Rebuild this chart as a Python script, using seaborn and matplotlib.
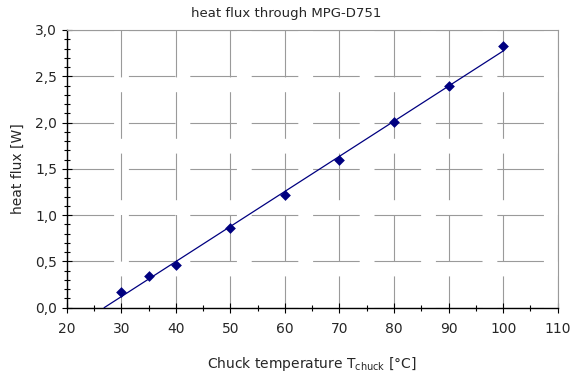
import matplotlib
matplotlib.use("Agg")
import matplotlib.pyplot as plt
from matplotlib.ticker import MultipleLocator
import numpy as np
import pandas as pd
import seaborn as sns

sns.set_theme(style="white")
plt.rcParams.update({
    "font.family": ["DejaVu Sans"],
    "font.size": 10,
    "lines.scale_dashes": False,
    "mathtext.default": "regular",
})

temperature = [30, 35, 40, 50, 60, 70, 80, 90, 100]
heat_flux = [0.173, 0.342, 0.461, 0.861, 1.22, 1.595, 2.002, 2.397, 2.826]

x_ticks = [20, 30, 40, 50, 60, 70, 80, 90, 100, 110]
y_ticks = [0.0, 0.5, 1.0, 1.5, 2.0, 2.5, 3.0]
y_tick_labels = ["0,0", "0,5", "1,0", "1,5", "2,0", "2,5", "3,0"]

df = pd.DataFrame({"T": temperature, "Q": heat_flux})

# linear fit, drawn from where it crosses zero up to the last point
slope, icpt = np.polyfit(df["T"], df["Q"], 1)
fit = pd.DataFrame({"T": [-icpt / slope, df["T"].max()]})
fit["Q"] = slope * fit["T"] + icpt

navy = "#000080"
grid_c = "#9a9a9a"

fig, ax = plt.subplots(figsize=(5.73, 3.73), dpi=100)
fig.subplots_adjust(left=0.1164, right=0.9733, top=0.9196, bottom=0.1751)

sns.lineplot(data=fit, x="T", y="Q", color=navy, lw=0.9, ax=ax, zorder=3)
sns.scatterplot(data=df, x="T", y="Q", marker="D", s=30, color=navy,
                edgecolor=navy, linewidth=0, ax=ax, zorder=4)

ax.set_xlim(20, 110)
ax.set_ylim(0, 3)
ax.set_xticks(x_ticks)
ax.set_yticks(y_ticks)
ax.set_yticklabels(y_tick_labels)
ax.xaxis.set_minor_locator(MultipleLocator(5))
ax.yaxis.set_minor_locator(MultipleLocator(0.1))

# long dashed grid, ~47px on / 15px off; vertical lines start with a dash at the top
on, off = 33.55, 10.66
ax.yaxis.grid(True, color=grid_c, lw=0.8, linestyle=(0, (on, off)))
ax.xaxis.grid(True, color=grid_c, lw=0.8,
              linestyle=(0, (23.1, off) + (on, off) * 4))
ax.set_axisbelow(True)

for side in ["top", "right"]:
    ax.spines[side].set_color(grid_c)
    ax.spines[side].set_linewidth(0.8)
for side in ["left", "bottom"]:
    ax.spines[side].set_color("black")
    ax.spines[side].set_linewidth(1.0)

ax.tick_params(which="major", direction="inout", length=7, width=0.8,
               color="black", labelsize=10, pad=3.5, left=True, bottom=True)
ax.tick_params(which="minor", direction="inout", length=4, width=0.8,
               color="black", left=True, bottom=True)
ax.tick_params(axis="x", which="major", pad=6.5)

ax.set_xlabel(r"Chuck temperature T$_{chuck}$ [°C]", fontsize=10, labelpad=14)
ax.set_ylabel("heat flux [W]", fontsize=10, labelpad=7)
fig.suptitle("heat flux through MPG-D751", fontsize=9.5, y=0.98)

fig.savefig("out.png", dpi=100)
